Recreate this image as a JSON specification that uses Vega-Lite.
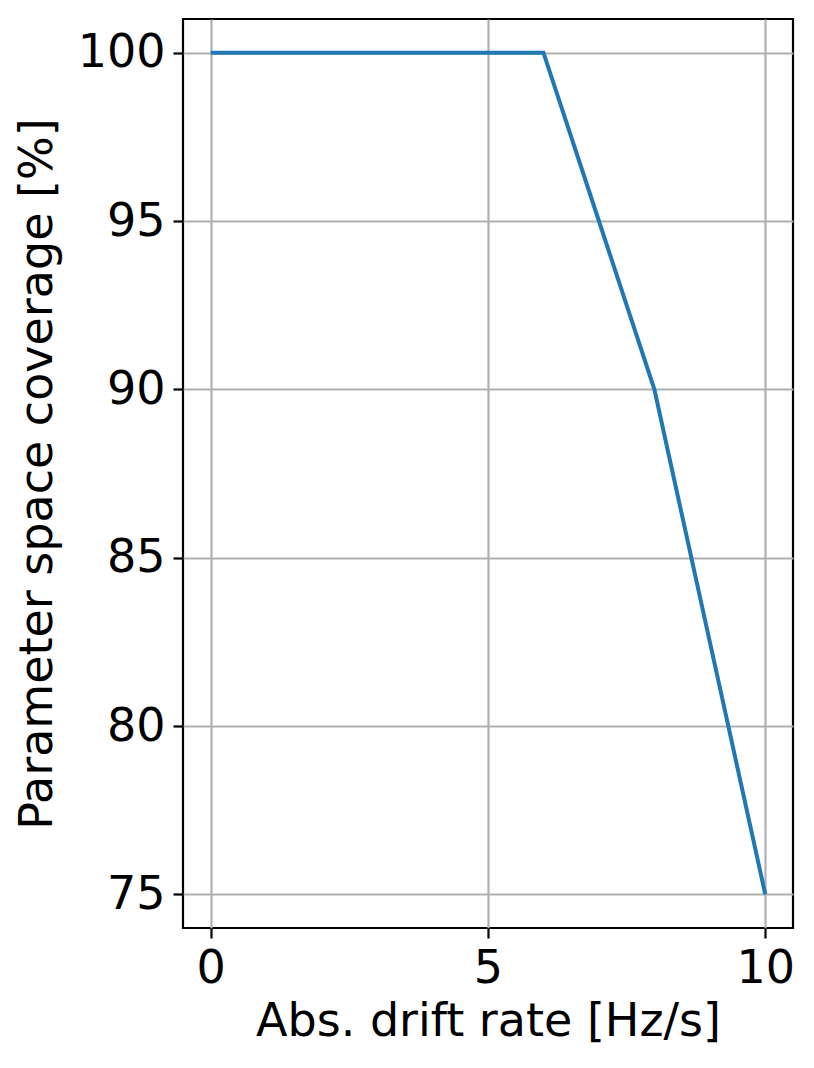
{
  "$schema": "https://vega.github.io/schema/vega-lite/v6.json",
  "width": 610,
  "height": 909,
  "autosize": {"type": "none"},
  "padding": {"left": 183, "top": 19, "right": 21, "bottom": 140},
  "background": "white",
  "config": {
    "font": "DejaVu Sans",
    "view": {"stroke": "black", "strokeWidth": 2.2},
    "axis": {
      "labelFont": "DejaVu Sans",
      "titleFont": "DejaVu Sans",
      "labelFontSize": 46,
      "titleFontSize": 46,
      "labelColor": "black",
      "titleColor": "black",
      "titleFontWeight": "normal",
      "tickColor": "black",
      "tickWidth": 2.2,
      "tickSize": 10,
      "labelPadding": 8,
      "domain": false,
      "gridColor": "#b0b0b0",
      "gridWidth": 2.2,
      "gridOpacity": 1
    }
  },
  "data": {
    "values": [
      {"drift": 0, "coverage": 100},
      {"drift": 1, "coverage": 100},
      {"drift": 2, "coverage": 100},
      {"drift": 3, "coverage": 100},
      {"drift": 4, "coverage": 100},
      {"drift": 5, "coverage": 100},
      {"drift": 6, "coverage": 100},
      {"drift": 7, "coverage": 95},
      {"drift": 8, "coverage": 90},
      {"drift": 9, "coverage": 82.5},
      {"drift": 10, "coverage": 75}
    ]
  },
  "mark": {"type": "line", "color": "#1f77b4", "strokeWidth": 4, "clip": true},
  "encoding": {
    "x": {
      "field": "drift",
      "type": "quantitative",
      "scale": {"domain": [-0.5, 10.5], "nice": false, "zero": false},
      "axis": {"values": [0, 5, 10], "title": "Abs. drift rate [Hz/s]", "titlePadding": 8, "labelFlush": false}
    },
    "y": {
      "field": "coverage",
      "type": "quantitative",
      "scale": {"domain": [74, 101], "nice": false, "zero": false},
      "axis": {"values": [75, 80, 85, 90, 95, 100], "title": "Parameter space coverage [%]", "titlePadding": 16, "labelFlush": false}
    }
  }
}
